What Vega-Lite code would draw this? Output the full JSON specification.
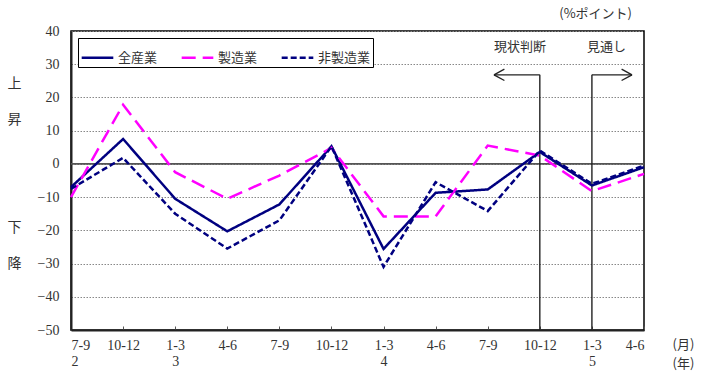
{
  "$schema": "https://vega.github.io/schema/vega-lite/v6.json",
  "width": 573,
  "height": 299,
  "autosize": {"type": "none"},
  "padding": {"left": 71, "top": 31, "right": 73, "bottom": 58},
  "background": "white",
  "title": {"text": "(%ポイント)", "anchor": "end", "frame": "group", "dx": -12, "offset": 3, "fontSize": 13, "fontWeight": "normal", "font": "Noto Sans CJK JP", "color": "#333"},
  "config": {
    "view": {"stroke": "black", "strokeWidth": 1.5},
    "axis": {"labelFont": "Liberation Serif", "labelColor": "#333", "labelFontSize": 14, "labelOverlap": false, "titleFont": "Noto Sans CJK JP", "titleColor": "#333", "titleFontWeight": "normal", "titleFontSize": 13}
  },
  "datasets": {
    "series": [
      {"i": 0, "s": "全産業", "v": -7}, {"i": 1, "s": "全産業", "v": 7.5}, {"i": 2, "s": "全産業", "v": -10.5}, {"i": 3, "s": "全産業", "v": -20.3},
      {"i": 4, "s": "全産業", "v": -12.2}, {"i": 5, "s": "全産業", "v": 5.3}, {"i": 6, "s": "全産業", "v": -25.6}, {"i": 7, "s": "全産業", "v": -8.7},
      {"i": 8, "s": "全産業", "v": -7.7}, {"i": 9, "s": "全産業", "v": 3.6}, {"i": 10, "s": "全産業", "v": -6.5}, {"i": 11, "s": "全産業", "v": -1},
      {"i": 0, "s": "製造業", "v": -10}, {"i": 1, "s": "製造業", "v": 17.8}, {"i": 2, "s": "製造業", "v": -2.5}, {"i": 3, "s": "製造業", "v": -10.5},
      {"i": 4, "s": "製造業", "v": -3.5}, {"i": 5, "s": "製造業", "v": 4.8}, {"i": 6, "s": "製造業", "v": -15.8}, {"i": 7, "s": "製造業", "v": -15.8},
      {"i": 8, "s": "製造業", "v": 5.5}, {"i": 9, "s": "製造業", "v": 2.5}, {"i": 10, "s": "製造業", "v": -8.2}, {"i": 11, "s": "製造業", "v": -3},
      {"i": 0, "s": "非製造業", "v": -7.5}, {"i": 1, "s": "非製造業", "v": 1.8}, {"i": 2, "s": "非製造業", "v": -15}, {"i": 3, "s": "非製造業", "v": -25.5},
      {"i": 4, "s": "非製造業", "v": -17}, {"i": 5, "s": "非製造業", "v": 5.3}, {"i": 6, "s": "非製造業", "v": -31}, {"i": 7, "s": "非製造業", "v": -5.5},
      {"i": 8, "s": "非製造業", "v": -14.2}, {"i": 9, "s": "非製造業", "v": 4}, {"i": 10, "s": "非製造業", "v": -6}, {"i": 11, "s": "非製造業", "v": -0.5}
    ],
    "arrows": [
      {"x": 9, "y": -50, "x2": 9, "y2": 26.8},
      {"x": 9, "y": 26.8, "x2": 8.12, "y2": 26.8},
      {"x": 8.12, "y": 26.8, "x2": 8.32, "y2": 28.5},
      {"x": 8.12, "y": 26.8, "x2": 8.32, "y2": 25.1},
      {"x": 10, "y": -50, "x2": 10, "y2": 26.8},
      {"x": 10, "y": 26.8, "x2": 10.77, "y2": 26.8},
      {"x": 10.77, "y": 26.8, "x2": 10.57, "y2": 28.5},
      {"x": 10.77, "y": 26.8, "x2": 10.57, "y2": 25.1}
    ],
    "notes": [
      {"x": 8.62, "y": 35.3, "t": "現状判断"},
      {"x": 10.28, "y": 35.3, "t": "見通し"}
    ]
  },
  "layer": [
    {
      "data": {"values": [{"z": 0}]},
      "mark": {"type": "rule", "color": "#555", "strokeWidth": 1.8},
      "encoding": {
        "y": {
          "field": "z", "type": "quantitative",
          "scale": {"domain": [-50, 40], "nice": false},
          "axis": {
            "values": [-50, -40, -30, -20, -10, 0, 10, 20, 30, 40],
            "tickCount": 12,
            "ticks": false, "labelPadding": 12,
            "domainColor": "#222", "domainWidth": 2,
            "gridColor": "#888", "gridDash": [1.5, 1.5], "gridWidth": 1,
            "title": ["上", "昇", "\u200b", "\u200b", "下", "降"],
            "titleAngle": 0, "titleAlign": "center", "titleBaseline": "top",
            "titleX": -57, "titleY": 45, "titleLineHeight": 36, "titleFontSize": 14
          }
        }
      }
    },
    {
      "data": {"name": "arrows"},
      "mark": {"type": "rule", "color": "#222", "strokeWidth": 1.4},
      "encoding": {
        "x": {
          "field": "x", "type": "quantitative",
          "scale": {"domain": [0, 11], "nice": false, "zero": false},
          "axis": {
            "values": [0, 1, 2, 3, 4, 5, 6, 7, 8, 9, 10, 11],
            "tickCount": 14,
            "grid": false,
            "domainColor": "#222", "domainWidth": 2,
            "tickColor": "#555", "tickSize": -4,
            "labelPadding": 12, "labelLineHeight": 16,
            "labelExpr": "[['7-9','10-12','1-3','4-6','7-9','10-12','1-3','4-6','7-9','10-12','1-3','4-6'][datum.value], ['2','','3','','','','4','','','','5',''][datum.value]]",
            "title": ["(月)", "(年)"],
            "titleAngle": 0, "titleAlign": "center", "titleBaseline": "top",
            "titleX": 612, "titleY": 8, "titleLineHeight": 19
          }
        },
        "x2": {"field": "x2"},
        "y": {"field": "y", "type": "quantitative"},
        "y2": {"field": "y2"}
      }
    },
    {
      "data": {"name": "notes"},
      "mark": {"type": "text", "font": "Noto Sans CJK JP", "fontSize": 13, "color": "#333", "baseline": "middle"},
      "encoding": {
        "x": {"field": "x", "type": "quantitative"},
        "y": {"field": "y", "type": "quantitative"},
        "text": {"field": "t"}
      }
    },
    {
      "data": {"name": "series"},
      "mark": {"type": "line", "strokeWidth": 2.5},
      "encoding": {
        "x": {"field": "i", "type": "quantitative"},
        "y": {"field": "v", "type": "quantitative"},
        "color": {
          "field": "s", "type": "nominal",
          "scale": {"domain": ["全産業", "製造業", "非製造業"], "range": ["#000080", "#ff00ff", "#000080"]},
          "legend": {
            "title": null, "orient": "none", "legendX": 7, "legendY": 7, "direction": "horizontal",
            "fillColor": "white", "strokeColor": "black", "padding": 2,
            "labelFont": "Noto Sans CJK JP", "labelFontSize": 13, "labelColor": "#333", "labelOffset": 3,
            "symbolType": "stroke", "symbolSize": 1000, "symbolStrokeWidth": 2.5, "columnPadding": 18
          }
        },
        "strokeDash": {
          "field": "s", "type": "nominal",
          "scale": {"domain": ["全産業", "製造業", "非製造業"], "range": [[1, 0], [14, 7], [6, 3]]},
          "legend": {
            "title": null, "orient": "none", "legendX": 7, "legendY": 7, "direction": "horizontal",
            "fillColor": "white", "strokeColor": "black", "padding": 2,
            "labelFont": "Noto Sans CJK JP", "labelFontSize": 13, "labelColor": "#333", "labelOffset": 3,
            "symbolType": "stroke", "symbolSize": 1000, "symbolStrokeWidth": 2.5, "columnPadding": 18
          }
        }
      }
    }
  ]
}
